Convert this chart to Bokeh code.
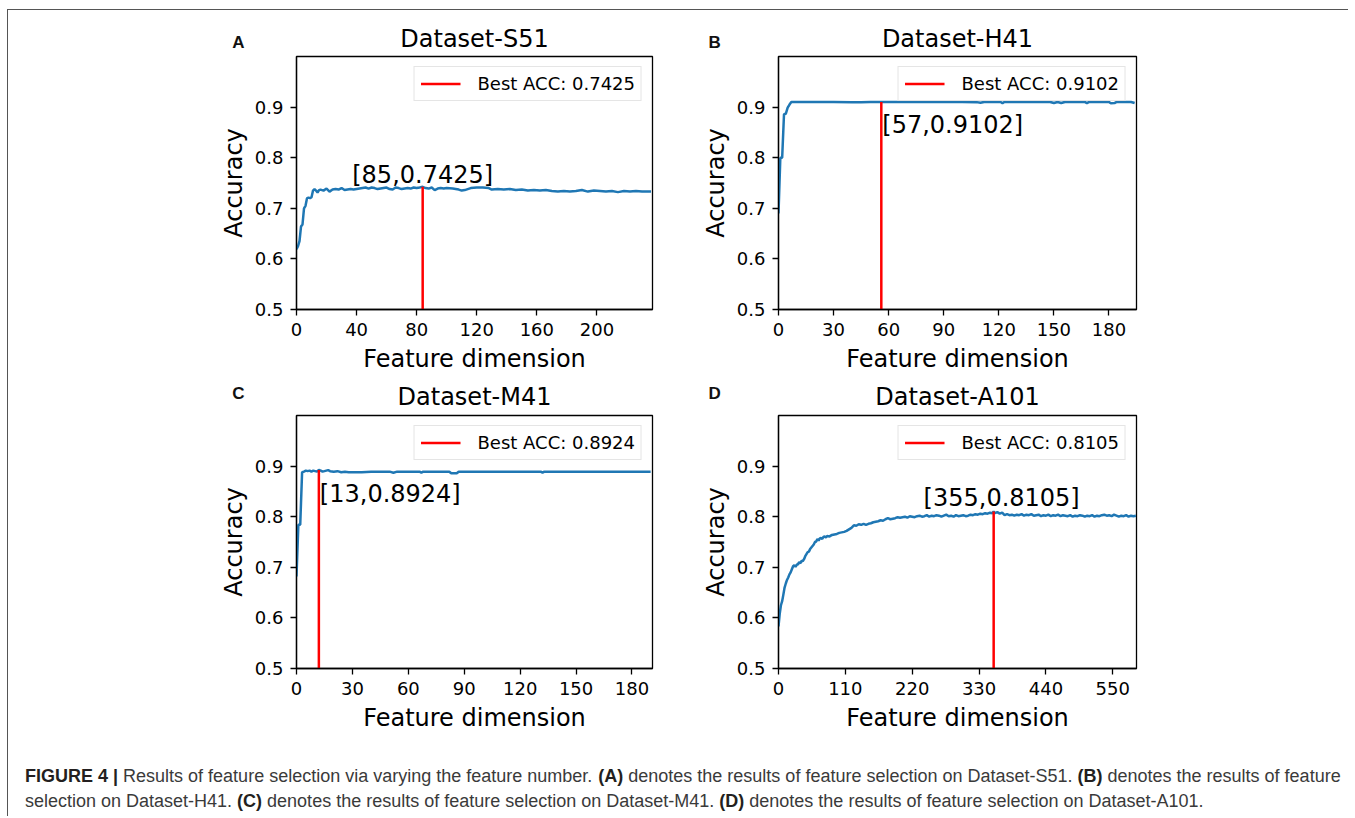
from bokeh.plotting import figure
from bokeh.layouts import column, row
from bokeh.models import Range1d, FixedTicker, Label, ColumnDataSource, Spacer
from bokeh.embed import file_html
from bokeh.resources import INLINE
from bokeh.core.properties import value

# ------------------------------------------------------------------ data
panel_titles = ["Dataset-S51", "Dataset-H41", "Dataset-M41", "Dataset-A101"]
panel_letters = ["A", "B", "C", "D"]
x_max = [237, 195, 191, 589]
x_ticks = [
    [0, 40, 80, 120, 160, 200],
    [0, 30, 60, 90, 120, 150, 180],
    [0, 30, 60, 90, 120, 150, 180],
    [0, 110, 220, 330, 440, 550],
]
y_ticks = [0.5, 0.6, 0.7, 0.8, 0.9]
best_index = [84, 56, 12, 354]      # position of the red marker line
best_dim = [85, 57, 13, 355]        # dimension printed in the annotation
best_acc = [0.7425, 0.9102, 0.8924, 0.8105]

s51_x = [0, 1, 2, 3, 4, 5, 6, 7, 8, 9, 10, 11, 12, 13, 14, 15, 16, 18, 20, 22,
         24, 26, 28, 30, 32, 34, 36, 38, 40, 42, 44, 46, 48, 50, 52, 54, 56, 58,
         60, 62, 64, 66, 68, 70, 72, 74, 76, 78, 80, 82, 84, 86, 88, 90, 92, 94,
         96, 98, 100, 104, 108, 110, 112, 116, 120, 124, 128, 130, 134, 138, 142,
         146, 150, 154, 158, 162, 166, 170, 174, 178, 182, 186, 190, 194, 198,
         202, 206, 210, 214, 218, 222, 226, 230, 236]
s51_acc = [0.619, 0.625, 0.635, 0.664, 0.668, 0.700, 0.705, 0.720, 0.721, 0.720,
           0.722, 0.735, 0.738, 0.735, 0.731, 0.736, 0.737, 0.735, 0.739, 0.733,
           0.737, 0.738, 0.737, 0.740, 0.736, 0.737, 0.738, 0.737, 0.738, 0.739,
           0.740, 0.741, 0.739, 0.741, 0.740, 0.738, 0.739, 0.740, 0.741, 0.738,
           0.737, 0.741, 0.740, 0.738, 0.739, 0.740, 0.739, 0.741, 0.740, 0.741,
           0.7425, 0.740, 0.739, 0.741, 0.736, 0.739, 0.740, 0.739, 0.740, 0.739,
           0.737, 0.735, 0.736, 0.740, 0.741, 0.741, 0.740, 0.737, 0.738, 0.737,
           0.738, 0.736, 0.737, 0.735, 0.736, 0.735, 0.736, 0.734, 0.733, 0.734,
           0.733, 0.734, 0.736, 0.733, 0.735, 0.734, 0.733, 0.734, 0.732, 0.734,
           0.733, 0.734, 0.733, 0.733]

h41_x = [0, 1, 2, 3, 4, 5, 6, 7, 8, 20, 30, 40, 45, 50, 56, 60, 100, 108, 110,
         112, 121, 122, 123, 148, 150, 152, 154, 156, 167, 168, 169, 180, 181,
         183, 184, 192, 194]
h41_acc = [0.690, 0.800, 0.800, 0.886, 0.887, 0.899, 0.905, 0.910, 0.910, 0.910,
           0.910, 0.9098, 0.9095, 0.9100, 0.9102, 0.9100, 0.910, 0.9098, 0.9085,
           0.910, 0.910, 0.9075, 0.910, 0.910, 0.908, 0.910, 0.908, 0.910, 0.910,
           0.908, 0.910, 0.910, 0.9075, 0.908, 0.910, 0.910, 0.908]

m41_x = [0, 1, 2, 3, 4, 5, 6, 7, 8, 9, 10, 11, 12, 13, 14, 16, 17, 18, 20, 22,
         24, 26, 28, 30, 35, 40, 50, 52, 54, 66, 67, 68, 82, 83, 86, 87, 131,
         132, 133, 190]
m41_acc = [0.682, 0.784, 0.784, 0.888, 0.889, 0.891, 0.890, 0.891, 0.889, 0.891,
           0.890, 0.889, 0.8924, 0.891, 0.889, 0.891, 0.892, 0.890, 0.889, 0.890,
           0.888, 0.889, 0.888, 0.888, 0.888, 0.889, 0.889, 0.887, 0.889, 0.889,
           0.887, 0.889, 0.889, 0.886, 0.886, 0.889, 0.889, 0.887, 0.889, 0.889]

a101_x = [0, 2, 4, 6, 8, 10, 12, 14, 16, 18, 20, 22, 24, 26, 28, 30, 32, 34, 36,
          38, 40, 42, 44, 46, 48, 50, 52, 54, 56, 58, 60, 62, 64, 66, 68, 70, 72,
          74, 76, 78, 80, 84, 88, 92, 96, 100, 104, 108, 112, 116, 120, 124, 128,
          132, 136, 140, 144, 148, 152, 156, 160, 164, 168, 172, 176, 180, 184,
          188, 192, 196, 200, 204, 208, 212, 216, 220, 224, 228, 232, 236, 240,
          244, 248, 252, 256, 260, 264, 268, 272, 276, 280, 284, 288, 292, 296,
          300, 304, 308, 312, 316, 320, 324, 328, 332, 336, 340, 344, 348, 352,
          354, 356, 360, 364, 368, 372, 376, 380, 384, 388, 392, 396, 400, 404,
          408, 412, 416, 420, 424, 428, 432, 436, 440, 444, 448, 452, 456, 460,
          464, 468, 472, 476, 480, 484, 488, 492, 496, 500, 504, 508, 512, 516,
          520, 524, 528, 532, 536, 540, 544, 548, 552, 556, 560, 564, 568, 572,
          576, 580, 584, 588]
a101_acc = [0.583, 0.608, 0.625, 0.633, 0.646, 0.660, 0.668, 0.675, 0.680, 0.686,
            0.690, 0.696, 0.702, 0.704, 0.701, 0.705, 0.706, 0.710, 0.708, 0.713,
            0.712, 0.716, 0.722, 0.726, 0.730, 0.731, 0.736, 0.739, 0.742, 0.745,
            0.750, 0.751, 0.756, 0.753, 0.757, 0.758, 0.756, 0.760, 0.761, 0.759,
            0.762, 0.761, 0.764, 0.765, 0.766, 0.768, 0.769, 0.770, 0.772, 0.775,
            0.778, 0.783, 0.782, 0.785, 0.784, 0.786, 0.784, 0.786, 0.787, 0.789,
            0.790, 0.791, 0.793, 0.792, 0.795, 0.797, 0.795, 0.796, 0.797, 0.799,
            0.798, 0.799, 0.800, 0.798, 0.801, 0.800, 0.799, 0.801, 0.802, 0.800,
            0.801, 0.803, 0.800, 0.802, 0.801, 0.803, 0.802, 0.800, 0.802, 0.804,
            0.801, 0.802, 0.800, 0.803, 0.801, 0.802, 0.803, 0.801, 0.802, 0.804,
            0.803, 0.805, 0.804, 0.806, 0.805, 0.807, 0.806, 0.808, 0.807, 0.8105,
            0.807, 0.809, 0.806, 0.808, 0.803, 0.805, 0.803, 0.804, 0.802, 0.804,
            0.803, 0.805, 0.802, 0.804, 0.803, 0.805, 0.802, 0.803, 0.804, 0.801,
            0.803, 0.802, 0.804, 0.801, 0.803, 0.802, 0.804, 0.801, 0.803, 0.802,
            0.801, 0.803, 0.800, 0.802, 0.801, 0.803, 0.802, 0.800, 0.802, 0.801,
            0.803, 0.800, 0.802, 0.801, 0.803, 0.804, 0.802, 0.803, 0.801, 0.804,
            0.802, 0.800, 0.802, 0.801, 0.803, 0.800, 0.802, 0.801, 0.802]

series_x = [s51_x, h41_x, m41_x, a101_x]
series_acc = [s51_acc, h41_acc, m41_acc, a101_acc]

x_label = "Feature dimension"
y_label = "Accuracy"

caption_lines = [
    [("FIGURE 4 |", True),
     ("Results of feature selection via varying the feature number.", False),
     ("(A)", True),
     ("denotes the results of feature selection on Dataset-S51.", False),
     ("(B)", True),
     ("denotes the results of feature", False)],
    [("selection on Dataset-H41.", False),
     ("(C)", True),
     ("denotes the results of feature selection on Dataset-M41.", False),
     ("(D)", True),
     ("denotes the results of feature selection on Dataset-A101.", False)],
]

# ------------------------------------------------------------------ style / layout
FONT = "DejaVu Sans"
BLUE = "#1f77b4"
FRAME_H = 253
TOTAL_W = 1340
HEAD_H = [44, 38]
# per panel: frame width, min borders (left, right, top, bottom)
geo = [
    dict(fw=356, l=288, r=41, t=2, b=66),
    dict(fw=358, l=85, r=190, t=2, b=66),
    dict(fw=356, l=288, r=41, t=2, b=66),
    dict(fw=358, l=85, r=190, t=2, b=66),
]
# header rows: letter centre (x, y) and title centre y (px in the header)
letter_xy = [(230, 32.2), (706.2, 32.2), (230, 18.2), (706.2, 18.2)]
title_y = [28.3, 28.3, 21.7, 21.7]
# annotation offsets (px from the best point, +y = up), alignment
ann_px = [(0, 12.2, "center"), (1, -23.3, "left"), (1, -24.3, "left"), (8, 13, "center")]


def make_panel(i):
    g = geo[i]
    xm = x_max[i]
    y0, y1 = 0.5, 1.0
    p = figure(frame_width=g["fw"], frame_height=FRAME_H, title=None,
               x_range=Range1d(0, xm), y_range=Range1d(y0, y1),
               output_backend="svg", toolbar_location=None,
               min_border_left=g["l"], min_border_right=g["r"],
               min_border_top=g["t"], min_border_bottom=g["b"])
    p.grid.visible = False
    p.outline_line_color = "black"
    p.outline_line_width = 1.3
    p.background_fill_color = "white"
    p.border_fill_color = "white"

    p.line(series_x[i], series_acc[i], line_color=BLUE, line_width=2.5)
    p.line([best_index[i], best_index[i]], [y_ticks[0], best_acc[i]],
           line_color="red", line_width=2.5,
           legend_label=f"Best ACC: {best_acc[i]}")

    for ax in (p.xaxis[0], p.yaxis[0]):
        ax.axis_line_color = "black"
        ax.axis_line_width = 1.3
        ax.major_tick_line_color = "black"
        ax.major_tick_line_width = 1.3
        ax.major_tick_out = 6
        ax.major_tick_in = 0
        ax.minor_tick_line_color = None
        ax.major_label_text_font = FONT
        ax.major_label_text_font_size = "18px"
        ax.major_label_text_color = "black"
        ax.axis_label_text_font = FONT
        ax.axis_label_text_font_size = "24px"
        ax.axis_label_text_font_style = "normal"
        ax.axis_label_text_color = "black"
    p.xaxis.ticker = FixedTicker(ticks=x_ticks[i])
    p.yaxis.ticker = FixedTicker(ticks=y_ticks)
    p.xaxis.axis_label = x_label
    p.yaxis.axis_label = y_label
    p.xaxis.major_label_standoff = 7
    p.xaxis.axis_label_standoff = 6
    p.yaxis.major_label_standoff = 7
    p.yaxis.axis_label_standoff = 4

    lg = p.legend[0]
    lg.location = "top_right"
    lg.margin = 10
    lg.padding = 6
    lg.spacing = 0
    lg.label_standoff = 17
    lg.glyph_width = 40
    lg.glyph_height = 19
    lg.label_height = 19
    lg.label_text_font = FONT
    lg.label_text_font_size = "18px"
    lg.label_text_color = "black"
    lg.border_line_color = "#cccccc"
    lg.border_line_width = 1
    lg.background_fill_alpha = 0.8

    ux = xm / g["fw"]             # data units per px
    uy = (y1 - y0) / FRAME_H
    dx, dy, al = ann_px[i]
    p.add_layout(Label(x=best_index[i] + dx * ux, y=best_acc[i] + dy * uy,
                       text=f"[{best_dim[i]},{best_acc[i]}]",
                       text_font=FONT, text_font_size="24px", text_color="black",
                       text_align=al, text_baseline="middle"))
    return p


panels = [make_panel(i) for i in range(4)]


def blank_fig(w, h):
    f = figure(width=w, height=h, x_range=Range1d(0, w), y_range=Range1d(h, 0),
               output_backend="svg", toolbar_location=None, title=None,
               x_axis_type=None, y_axis_type=None, min_border=0)
    f.outline_line_color = None
    f.grid.visible = False
    return f


# frame centres (px from the layout's left edge)
frame_cx = [geo[0]["l"] + geo[0]["fw"] / 2,
            geo[0]["l"] + geo[0]["fw"] + geo[0]["r"] + geo[1]["l"] + geo[1]["fw"] / 2]

headers = []
for r in range(2):
    h = blank_fig(TOTAL_W, HEAD_H[r])
    idx = [2 * r, 2 * r + 1]
    h.text(x=[frame_cx[0], frame_cx[1]], y=[title_y[k] for k in idx],
           text=[panel_titles[k] for k in idx],
           text_font=value(FONT), text_font_size="24px", text_color="black",
           text_align="center", text_baseline="middle")
    h.text(x=[letter_xy[k][0] for k in idx], y=[letter_xy[k][1] for k in idx],
           text=[panel_letters[k] for k in idx],
           text_font=value("Liberation Sans"), text_font_style="bold",
           text_font_size="17px", text_color="#111111",
           text_align="center", text_baseline="middle")
    headers.append(h)

# ------------------------------------------------------------------ caption
ARIAL = {' ': 278, '-': 333, '.': 278, '0': 556, '1': 556, '4': 556, '5': 556,
         'A': 667, 'D': 722, 'H': 722, 'M': 833, 'R': 722, 'S': 667,
         'a': 556, 'b': 556, 'c': 500, 'd': 556, 'e': 556, 'f': 278, 'g': 556,
         'h': 556, 'i': 222, 'l': 222, 'm': 833, 'n': 556, 'o': 556, 'r': 333,
         's': 500, 't': 278, 'u': 556, 'v': 500, 'y': 500}
ARIAL_B = {' ': 278, '(': 333, ')': 333, '|': 280, '4': 556, 'A': 722, 'B': 722,
           'C': 722, 'D': 722, 'E': 667, 'F': 611, 'G': 778, 'I': 278, 'R': 722,
           'U': 722}
CAP_SIZE = 18
CAP_H = 82
cap_x0 = 16.5
cap_mid = [41.8, 66.1]


def tw(s, bold):
    t = ARIAL_B if bold else ARIAL
    return sum(t.get(c, 556) for c in s) / 1000.0 * CAP_SIZE


norm = dict(x=[], y=[], text=[])
bold = dict(x=[], y=[], text=[])
for li, segs in enumerate(caption_lines):
    x = cap_x0
    for s, b in segs:
        d = bold if b else norm
        d["x"].append(x)
        d["y"].append(cap_mid[li])
        d["text"].append(s)
        x += tw(s, b) + ARIAL[' '] / 1000.0 * CAP_SIZE

cap = blank_fig(TOTAL_W, CAP_H)
cap.text(x="x", y="y", text="text", source=ColumnDataSource(norm),
         text_font=value("Liberation Sans"), text_font_size="18px",
         text_color="#3a3a3a", text_baseline="middle", text_align="left")
cap.text(x="x", y="y", text="text", source=ColumnDataSource(bold),
         text_font=value("Liberation Sans"), text_font_size="18px",
         text_font_style="bold", text_color="#231f20",
         text_baseline="middle", text_align="left")

framed = column(headers[0], row(panels[0], panels[1]),
                headers[1], row(panels[2], panels[3]), cap,
                styles={"border-top": "1.5px solid #555555",
                        "border-left": "1.5px solid #555555"})
root = column(Spacer(height=9), row(Spacer(width=7), framed))

open("out.html", "w").write(file_html(root, INLINE))
